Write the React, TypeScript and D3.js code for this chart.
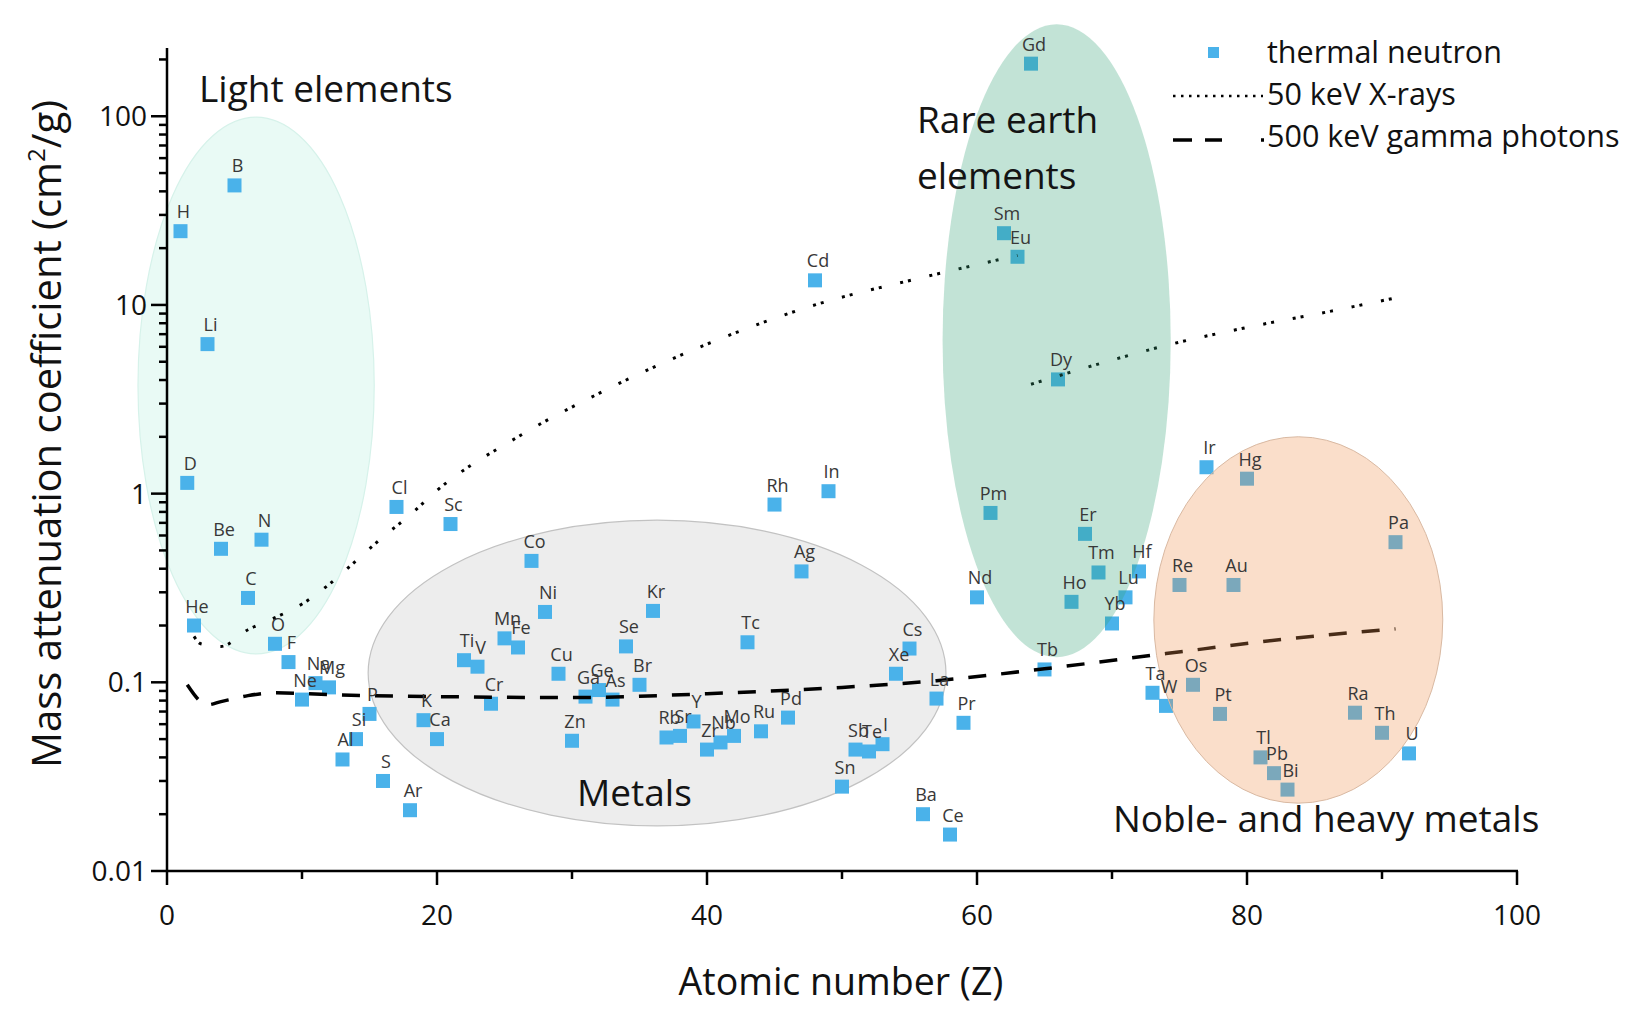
import React, { useEffect, useRef } from 'react';
import * as d3 from 'd3';

// thermal neutron mass attenuation coefficients (cm2/g)
const elements = ['H', 'D', 'He', 'Li', 'Be', 'B', 'C', 'N', 'O', 'F', 'Ne', 'Na', 'Mg', 'Al', 'Si', 'P', 'S', 'Cl', 'Ar', 'K', 'Ca',
  'Sc', 'Ti', 'V', 'Cr', 'Mn', 'Fe', 'Co', 'Ni', 'Cu', 'Zn', 'Ga', 'Ge', 'As', 'Se', 'Br', 'Kr', 'Rb', 'Sr', 'Y', 'Zr',
  'Nb', 'Mo', 'Tc', 'Ru', 'Rh', 'Pd', 'Ag', 'Cd', 'In', 'Sn', 'Sb', 'Te', 'I', 'Xe', 'Cs', 'Ba', 'La', 'Ce', 'Pr', 'Nd',
  'Pm', 'Sm', 'Eu', 'Gd', 'Tb', 'Dy', 'Ho', 'Er', 'Tm', 'Yb', 'Lu', 'Hf', 'Ta', 'W', 'Re', 'Os', 'Ir', 'Pt', 'Au', 'Hg',
  'Tl', 'Pb', 'Bi', 'Ra', 'Th', 'Pa', 'U'];
const atomicNumber = [1, 1.5, 2, 3, 4, 5, 6, 7, 8, 9, 10, 11, 12, 13, 14, 15, 16, 17, 18, 19, 20,
  21, 22, 23, 24, 25, 26, 27, 28, 29, 30, 31, 32, 33, 34, 35, 36, 37, 38, 39, 40,
  41, 42, 43, 44, 45, 46, 47, 48, 49, 50, 51, 52, 53, 54, 55, 56, 57, 58, 59, 60,
  61, 62, 63, 64, 65, 66, 67, 68, 69, 70, 71, 72, 73, 74, 75, 76, 77, 78, 79, 80,
  81, 82, 83, 88, 90, 91, 92];
const neutronCoef = [24.6, 1.14, 0.2, 6.2, 0.51, 43, 0.28, 0.57, 0.16, 0.128, 0.081, 0.099, 0.094, 0.039, 0.05, 0.068, 0.03, 0.85, 0.021, 0.063, 0.05,
  0.69, 0.131, 0.121, 0.077, 0.171, 0.153, 0.44, 0.236, 0.111, 0.049, 0.084, 0.091, 0.081, 0.155, 0.097, 0.239, 0.051, 0.052, 0.062, 0.044,
  0.048, 0.052, 0.163, 0.055, 0.875, 0.065, 0.387, 13.5, 1.03, 0.028, 0.044, 0.043, 0.047, 0.111, 0.151, 0.02, 0.082, 0.0156, 0.061, 0.282,
  0.79, 24, 18, 190, 0.117, 4.03, 0.267, 0.612, 0.382, 0.205, 0.282, 0.387, 0.088, 0.075, 0.328, 0.097, 1.38, 0.068, 0.328, 1.2,
  0.04, 0.033, 0.027, 0.069, 0.054, 0.553, 0.042];

// 50 keV X-rays, two pieces (K-edge of Gd)
const xrayZ1 = [2, 2.5, 4, 6, 8, 10, 12, 14, 16, 18, 20, 26, 32, 40, 48, 56, 63];
const xrayMu1 = [0.175, 0.16, 0.155, 0.19, 0.22, 0.26, 0.33, 0.44, 0.59, 0.77, 1.04, 2.0, 3.4, 6.2, 10, 14, 18.3];
const xrayZ2 = [64, 70, 74, 80, 86, 91];
const xrayMu2 = [3.8, 5.1, 6.1, 7.6, 9.2, 10.9];

// 500 keV gamma photons
const gammaZ = [1.5, 3, 4, 6, 8, 12, 20, 30, 40, 50, 57, 65, 74, 83, 91];
const gammaMu = [0.097, 0.076, 0.079, 0.085, 0.088, 0.086, 0.084, 0.083, 0.087, 0.094, 0.102, 0.118, 0.142, 0.17, 0.192];

const xTicks = [0, 20, 40, 60, 80, 100];
const xMinor = [10, 30, 50, 70, 90];
const yTicks = [0.01, 0.1, 1, 10, 100];
const yTickLabels = ['0.01', '0.1', '1', '10', '100'];

// element groups, drawn as ellipses in (Z, log mu) space
const groupNames = ['Light elements', 'Metals', 'Rare earth', 'elements', 'Noble- and heavy metals'];
const groupZ = [6.6, 36.3, 65.9, 83.8];
const groupMu = [3.74, 0.112, 6.46, 0.214];
const groupHalfZ = [8.75, 21.4, 8.45, 10.7];
const groupHalfDecades = [1.422, 0.81, 1.677, 0.971];

const legendLabels = ['thermal neutron', '50 keV X-rays', '500 keV gamma photons'];

export default function App() {
  const ref = useRef<SVGSVGElement>(null);

  useEffect(() => {
    const svg = d3.select(ref.current);
    svg.selectAll('*').remove();

    const x = d3.scaleLinear().domain([0, 100]).range([167, 1517]);
    const y = d3.scaleLog().domain([0.01, 230]).range([871, 48]);

    const ellipse = (i: number) => ({
      cx: x(groupZ[i]),
      cy: y(groupMu[i]),
      rx: x(groupZ[i] + groupHalfZ[i]) - x(groupZ[i]),
      ry: y(groupMu[i]) - y(groupMu[i] * Math.pow(10, groupHalfDecades[i]))
    });

    // background groups
    const back = [
      { i: 0, fill: '#E9FAF5', stroke: '#D6F2EA' },
      { i: 1, fill: '#EDEDED', stroke: '#C2C2C2' }
    ];
    back.forEach(b => {
      const e = ellipse(b.i);
      svg.append('ellipse')
        .attr('cx', e.cx).attr('cy', e.cy).attr('rx', e.rx).attr('ry', e.ry)
        .attr('fill', b.fill).attr('stroke', b.stroke).attr('stroke-width', 1.2);
    });

    const points = elements.map((s, i) => ({ s, z: atomicNumber[i], v: neutronCoef[i] }));
    const size = 14;
    svg.append('g').selectAll('rect').data(points).join('rect')
      .attr('x', d => x(d.z) - size / 2)
      .attr('y', d => y(d.v) - size / 2)
      .attr('width', size).attr('height', size)
      .attr('fill', '#4AB2EA');

    const line = d3.line<[number, number]>()
      .x(d => x(d[0]))
      .y(d => y(d[1]))
      .curve(d3.curveMonotoneX);

    [[xrayZ1, xrayMu1], [xrayZ2, xrayMu2]].forEach(([zs, ms]) => {
      svg.append('path')
        .attr('d', line(zs.map((z, i) => [z, ms[i]] as [number, number])))
        .attr('fill', 'none').attr('stroke', '#000').attr('stroke-width', 3)
        .attr('stroke-dasharray', '3 5 3 19');
    });

    svg.append('path')
      .attr('d', line(gammaZ.map((z, i) => [z, gammaMu[i]] as [number, number])))
      .attr('fill', 'none').attr('stroke', '#000').attr('stroke-width', 3.5)
      .attr('stroke-dasharray', '18 15');

    // translucent groups on top of the marks
    const front = [
      { i: 2, fill: '#34A276', stroke: 'none' },
      { i: 3, fill: '#EE914E', stroke: '#D9B9A2' }
    ];
    front.forEach(f => {
      const e = ellipse(f.i);
      svg.append('ellipse')
        .attr('cx', e.cx).attr('cy', e.cy).attr('rx', e.rx).attr('ry', e.ry)
        .attr('fill', f.fill).attr('fill-opacity', 0.3)
        .attr('stroke', f.stroke).attr('stroke-width', 1);
    });

    // element labels
    svg.append('g').selectAll('text').data(points).join('text')
      .attr('x', d => x(d.z) + 3)
      .attr('y', d => y(d.v) - 13)
      .attr('text-anchor', 'middle')
      .attr('font-size', 18)
      .attr('fill', '#383838')
      .text(d => d.s);

    // group names
    const notes = svg.append('g').attr('font-size', 37).attr('fill', '#141414');
    notes.append('text').attr('x', 199).attr('y', 102).text(groupNames[0]);
    notes.append('text').attr('x', 577).attr('y', 806).text(groupNames[1]);
    notes.append('text').attr('x', 917).attr('y', 133).text(groupNames[2]);
    notes.append('text').attr('x', 917).attr('y', 189).text(groupNames[3]);
    notes.append('text').attr('x', 1113).attr('y', 832).text(groupNames[4]);

    // axes
    const ax = svg.append('g').attr('stroke', '#000').attr('stroke-width', 2.5);
    ax.append('line').attr('x1', x(0)).attr('x2', x(100) + 1).attr('y1', y(0.01)).attr('y2', y(0.01));
    ax.append('line').attr('x1', x(0)).attr('x2', x(0)).attr('y1', y(0.01) + 1).attr('y2', y(230));
    xTicks.forEach(t => ax.append('line').attr('x1', x(t)).attr('x2', x(t)).attr('y1', y(0.01)).attr('y2', y(0.01) + 14));
    xMinor.forEach(t => ax.append('line').attr('x1', x(t)).attr('x2', x(t)).attr('y1', y(0.01)).attr('y2', y(0.01) + 8));
    yTicks.forEach(t => ax.append('line').attr('x1', x(0) - 16).attr('x2', x(0)).attr('y1', y(t)).attr('y2', y(t)));
    yTicks.forEach(t => {
      d3.range(2, 10).forEach(k => {
        const v = t * k;
        if (v > 230) return;
        ax.append('line').attr('x1', x(0) - 8).attr('x2', x(0)).attr('y1', y(v)).attr('y2', y(v));
      });
    });

    const tl = svg.append('g').attr('font-size', 28).attr('fill', '#111');
    xTicks.forEach(t => tl.append('text').attr('x', x(t)).attr('y', 925).attr('text-anchor', 'middle').text(t));
    yTicks.forEach((t, i) => tl.append('text').attr('x', 147).attr('y', y(t) + 10).attr('text-anchor', 'end').text(yTickLabels[i]));

    svg.append('text')
      .attr('x', 841).attr('y', 995).attr('text-anchor', 'middle')
      .attr('font-size', 37.5).attr('fill', '#111')
      .text('Atomic number (Z)');

    const yt = svg.append('text')
      .attr('transform', 'translate(61,434) rotate(-90)')
      .attr('text-anchor', 'middle')
      .attr('font-size', 40).attr('fill', '#111');
    yt.append('tspan').text('Mass attenuation coefficient (cm');
    yt.append('tspan').attr('font-size', 24).attr('dy', -16).text('2');
    yt.append('tspan').attr('dy', 16).text('/g)');

    // legend
    const lg = svg.append('g');
    lg.append('rect').attr('x', 1208).attr('y', 47).attr('width', 11).attr('height', 11).attr('fill', '#4AB2EA');
    lg.append('line').attr('x1', 1173).attr('x2', 1263).attr('y1', 96).attr('y2', 96)
      .attr('stroke', '#000').attr('stroke-width', 2.5).attr('stroke-dasharray', '2.5 5.5');
    lg.append('line').attr('x1', 1173).attr('x2', 1265).attr('y1', 140).attr('y2', 140)
      .attr('stroke', '#000').attr('stroke-width', 3.5).attr('stroke-dasharray', '19 13 17 39 3 50');
    legendLabels.forEach((l, i) => {
      lg.append('text').attr('x', 1267).attr('y', 63 + i * 42).attr('font-size', 30.5).attr('fill', '#111').text(l);
    });
  }, []);

  return (
    <svg ref={ref} width={1639} height={1017}
      style={{ position: 'absolute', left: 0, top: 0, background: '#fff', fontFamily: '"Open Sans", sans-serif' }} />
  );
}
